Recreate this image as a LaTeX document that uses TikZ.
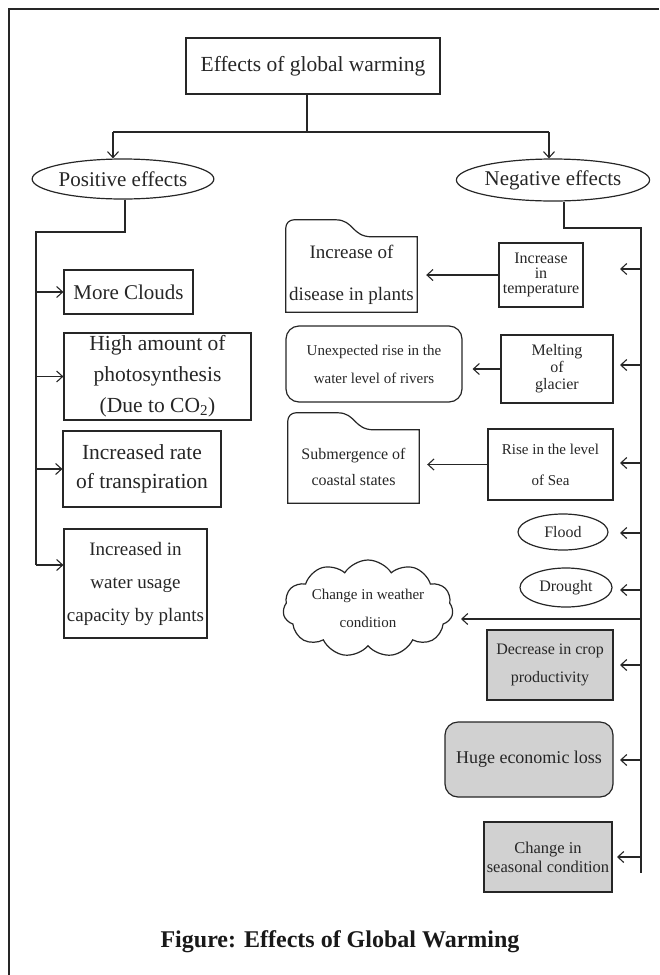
\documentclass[tikz,border=0pt]{standalone}
\usepackage{fontspec}
\setmainfont{Liberation Serif}
\usetikzlibrary{arrows.meta,shapes.geometric,shapes.symbols}
\newcommand\fsz[2]{\fontsize{#1}{#2}\selectfont}
\begin{document}
\begin{tikzpicture}[x=1pt,y=-1pt,
  ln/.style={line width=1.2pt, draw=black!85},
  bx/.style={ln, rectangle, inner sep=0pt, align=center, text=black!85},
  ov/.style={ln, ellipse, inner sep=0pt, align=center, text=black!85},
  rbx/.style={bx, rounded corners=13pt},
  tabn/.style={rectangle, inner sep=0pt, align=center, text=black!85},
  gf/.style={fill=black!18},
  arr/.style={ln, -{Straight Barb[length=6pt,width=11pt,line width=1.1pt]}}
]
\useasboundingbox (0,0) rectangle (659,975);
% outer frame
\coordinate (fa) at (9,975);
\coordinate (fb) at (9,9);
\coordinate (fc) at (659,9);
\draw[ln] (fa) -- (fb) -- (fc);

% title
\node[bx, line width=1.5pt, minimum width=254pt, minimum height=56pt, font=\fsz{21.5}{24}] (title) at (313,66) {Effects of global warming};
\coordinate (hj) at (307,132);
\coordinate (pa) at (113,132);
\coordinate (na) at (549,132);

\node[ov, minimum width=158pt, minimum height=40pt, font=\fsz{21}{24}] (pos) at (123,179) {Positive effects};
\node[ov, minimum width=170pt, minimum height=42pt, font=\fsz{21}{24}] (neg) at (553,180) {Negative effects};
\draw[ln] (title.south -| hj) -- (hj);
\draw[ln] (pa) -- (na);
\draw[arr] (pa) -- (pa |- pos.north);
\draw[arr] (na) -- (na |- neg.north);

% positive branch
\node[bx, minimum width=129pt, minimum height=44pt, font=\fsz{21}{24}] (clouds) at (128.5,292) {More Clouds};
\node[bx, minimum width=187pt, minimum height=87pt, font=\fsz{21.5}{31}] (high) at (157.5,376.5) {High amount of\\photosynthesis\\(Due to CO\textsubscript{2})};
\node[bx, minimum width=158pt, minimum height=76pt, font=\fsz{21.5}{29}] (rate) at (142,469) {Increased rate\\of transpiration};
\node[bx, minimum width=143pt, minimum height=109pt, font=\fsz{19}{33}] (usage) at (135.5,583.5) {Increased in\\water usage\\capacity by plants};

\coordinate (pb1) at (125,232);
\coordinate (pb2) at (36,232);
\coordinate (pb3) at (36,565);
\draw[ln] (pos.south -| pb1) -- (pb1) -- (pb2) -- (pb3);
\draw[arr] (clouds.west -| pb2) -- (clouds.west);
\draw[arr] (high.west -| pb2) -- (high.west);
\draw[arr] (rate.west -| pb2) -- (rate.west);
\draw[arr] (pb3) -- (pb3 -| usage.west);

% negative branch trunk
\coordinate (nb1) at (564,228);
\coordinate (nb2) at (641,228);
\coordinate (nb3) at (641,873);
\draw[ln] (neg.south -| nb1) -- (nb1) -- (nb2) -- (nb3);

% right column boxes
\node[bx, minimum width=84pt, minimum height=64pt, font=\fsz{16}{15}] (temp) at (541,275) {Increase\\in\\temperature};
\node[bx, minimum width=112pt, minimum height=68pt, font=\fsz{16}{17}] (melt) at (557,369) {Melting\\of\\glacier};
\node[bx, minimum width=125pt, minimum height=71pt, font=\fsz{15}{31}] (sea) at (550.5,464.5) {Rise in the level\\of Sea};
\node[ov, minimum width=90pt, minimum height=36pt, font=\fsz{16}{18}] (flood) at (563,532) {Flood};
\node[ov, minimum width=92pt, minimum height=39pt, font=\fsz{16}{18}] (drought) at (566,587.5) {Drought};
\node[bx, gf, minimum width=126pt, minimum height=70pt, font=\fsz{16}{28}] (crop) at (550,665) {Decrease in crop\\productivity};
\node[rbx, gf, minimum width=168pt, minimum height=75pt, font=\fsz{18}{20}] (loss) at (529,759.5) {Huge economic loss};
\node[bx, gf, minimum width=128pt, minimum height=70pt, font=\fsz{16.5}{19}] (season) at (548,857) {Change in\\seasonal condition};

% left-of-trunk result shapes
\node[tabn, minimum width=131pt, minimum height=75pt, font=\fsz{19}{42}] (dis) at (351.5,274.5) {Increase of\\disease in plants};
\draw[ln] (dis.south west) -- ([yshift=9pt]dis.north west)
  to[out=90,in=180] ([shift={(8pt,17pt)}]dis.north west)
  -- ([shift={(50pt,17pt)}]dis.north west)
  .. controls ([shift={(68pt,17pt)}]dis.north west) and ([shift={(66pt,0pt)}]dis.north west) .. ([shift={(86pt,0pt)}]dis.north west)
  -- (dis.north east) -- (dis.south east) -- cycle;

\node[rbx, minimum width=176pt, minimum height=76pt, font=\fsz{15}{28}] (river) at (374,364) {Unexpected rise in the\\water level of rivers};

\node[tabn, minimum width=131pt, minimum height=73pt, font=\fsz{16}{26}] (sub) at (353.5,466.5) {Submergence of\\coastal states};
\draw[ln] (sub.south west) -- ([yshift=9pt]sub.north west)
  to[out=90,in=180] ([shift={(8pt,17pt)}]sub.north west)
  -- ([shift={(50pt,17pt)}]sub.north west)
  .. controls ([shift={(68pt,17pt)}]sub.north west) and ([shift={(66pt,0pt)}]sub.north west) .. ([shift={(86pt,0pt)}]sub.north west)
  -- (sub.north east) -- (sub.south east) -- cycle;

\node[ln, draw, cloud, cloud puffs=11, cloud puff arc=115, cloud ignores aspect, minimum width=170pt, minimum height=97pt, inner sep=0pt, align=center, text=black!85, font=\fsz{15}{28}] (weather) at (368,608.5) {Change in weather\\condition};

% arrows between columns
\draw[arr] (temp.west) -- ([xshift=9pt]dis.east |- temp.west);
\draw[arr] (melt.west) -- ([xshift=10pt]river.east |- melt.west);
\draw[arr] (sea.west) -- ([xshift=8pt]sub.east |- sea.west);

% trunk stubs
\coordinate (t1) at (641,269);
\coordinate (t2) at (641,365);
\coordinate (t3) at (641,463);
\coordinate (t4) at (641,533);
\coordinate (t5) at (641,590);
\coordinate (t6) at (641,619);
\coordinate (t7) at (641,665);
\coordinate (t8) at (641,760);
\coordinate (t9) at (641,857);
\foreach \t in {t1,t2,t3,t4,t5,t7,t8}{\draw[arr] (\t) -- ++(-21,0);}
\draw[arr] (t9) -- ++(-24,0);
\draw[arr] (t6) -- ([xshift=8pt]weather.east |- t6);

% caption
\node[font=\fsz{24}{28}\bfseries, text=black!90, inner sep=0pt] (cap) at (340,942) {Figure: Effects of Global Warming};
\end{tikzpicture}
\end{document}
